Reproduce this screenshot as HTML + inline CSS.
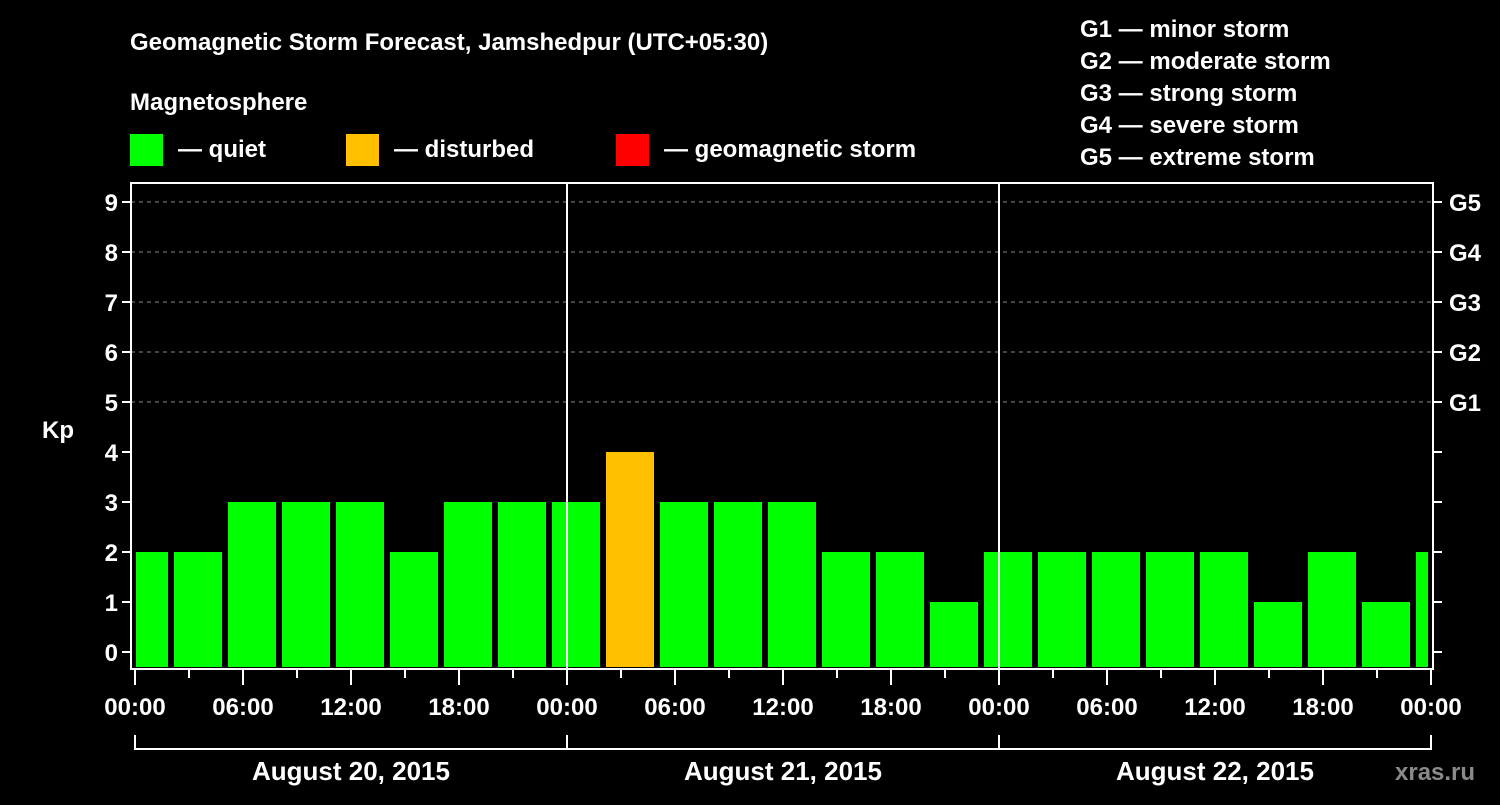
<!DOCTYPE html>
<html><head><meta charset="utf-8"><style>
body{margin:0;background:#000;width:1500px;height:800px;overflow:hidden}
svg text{font-family:"Liberation Sans",Arial,sans-serif;font-weight:bold;fill:#fff}
</style></head><body>
<svg id="chart" width="1500" height="800" xmlns="http://www.w3.org/2000/svg">
<rect width="1500" height="800" fill="#000"/>
<text x="130" y="50" font-size="24">Geomagnetic Storm Forecast, Jamshedpur (UTC+05:30)</text>
<text x="130" y="110" font-size="24">Magnetosphere</text>
<g><rect x="130" y="134" width="33" height="32" fill="#00ff00"/><text x="178" y="157" font-size="24">— quiet</text></g>
<g><rect x="346" y="134" width="33" height="32" fill="#ffc000"/><text x="394" y="157" font-size="24">— disturbed</text></g>
<g><rect x="616" y="134" width="33" height="32" fill="#ff0000"/><text x="664" y="157" font-size="24">— geomagnetic storm</text></g>
<g font-size="24">
<text x="1080" y="37">G1 — minor storm</text>
<text x="1080" y="69">G2 — moderate storm</text>
<text x="1080" y="101">G3 — strong storm</text>
<text x="1080" y="133">G4 — severe storm</text>
<text x="1080" y="165">G5 — extreme storm</text>
</g>
<g id="grid"></g>
<g id="bars"></g>
<g id="axes"></g>
<text x="1395" y="780" font-size="24" fill="#888" style="fill:#8a8a8a">xras.ru</text>
</svg>
<script>
const kpValues=[2,2,3,3,3,2,3,3,3,4,3,3,3,2,2,1,2,2,2,2,2,1,2,1,2];
const yTicks=[0,1,2,3,4,5,6,7,8,9];
const gLabels=["G1","G2","G3","G4","G5"];
const xTickLabels=["00:00","06:00","12:00","18:00","00:00","06:00","12:00","18:00","00:00","06:00","12:00","18:00","00:00"];
const dayLabels=["August 20, 2015","August 21, 2015","August 22, 2015"];
const NS="http://www.w3.org/2000/svg";
const X0=135,PXH=18,Y0=652,PXK=50,L=131,R=1433,T=183,B=669;
const x=h=>X0+h*PXH, y=v=>Y0-v*PXK;
function mk(p,tag,a){const e=document.createElementNS(NS,tag);for(const k in a)e.setAttribute(k,a[k]);document.getElementById(p).appendChild(e);return e;}
// grid
for(let v=5;v<=9;v++){const e=mk('grid','line',{x1:L,x2:R,y1:y(v),y2:y(v),stroke:'#888','stroke-dasharray':'4,4','stroke-width':1});

}
// bars
kpValues.forEach((v,i)=>{let s=i==0?0:2+3*(i-1),en=Math.min(72,s+3);if(i==0)en=2;
const x1=x(s)+(i==0?1:3),x2=x(en)-(en>=72?3:3);
const c=v>=5?'#ff0000':(v>=4?'#ffc000':'#00ff00');
const e=mk('bars','rect',{x:x1,y:y(v),width:Math.max(1,x2-x1),height:667-y(v),fill:c});

});
// frame
let f=mk('axes','rect',{x:L,y:T,width:R-L,height:B-T,fill:'none',stroke:'#fff','stroke-width':2});


[24,48].forEach(h=>{const e=mk('axes','line',{x1:x(h),x2:x(h),y1:T,y2:B,stroke:'#fff','stroke-width':2});

});
yTicks.forEach(v=>{mk('axes','line',{x1:L-9,x2:L,y1:y(v),y2:y(v),stroke:'#fff','stroke-width':2});
mk('axes','line',{x1:R,x2:R+9,y1:y(v),y2:y(v),stroke:'#fff','stroke-width':2});
const t=mk('axes','text',{x:L-13,y:y(v)+9,'font-size':24,'text-anchor':'end'});t.textContent=v;

});
gLabels.forEach((g,i)=>{const t=mk('axes','text',{x:1449,y:y(5+i)+9,'font-size':24});t.textContent=g;

});
const yl=mk('axes','text',{x:42,y:438,'font-size':24});yl.textContent='Kp';


for(let h=0;h<=72;h+=3){mk('axes','line',{x1:x(h),x2:x(h),y1:B,y2:B+(h%6==0?16:9),stroke:'#fff','stroke-width':2});}
xTickLabels.forEach((s,i)=>{const t=mk('axes','text',{x:x(i*6),y:715,'font-size':24,'text-anchor':'middle'});t.textContent=s;

});
mk('axes','line',{x1:x(0),x2:x(72),y1:749,y2:749,stroke:'#fff','stroke-width':2});
[0,24,48,72].forEach(h=>mk('axes','line',{x1:x(h),x2:x(h),y1:735,y2:750,stroke:'#fff','stroke-width':2}));
dayLabels.forEach((d,i)=>{const t=mk('axes','text',{x:x(i*24+12),y:780,'font-size':26,'text-anchor':'middle'});t.textContent=d;

});
</script>
</body></html>
